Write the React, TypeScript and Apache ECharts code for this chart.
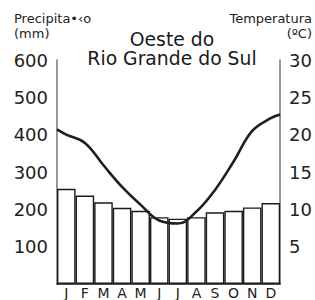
import React, { useEffect, useRef } from "react";
import * as echarts from "echarts";

const months = ["J", "F", "M", "A", "M", "J", "J", "A", "S", "O", "N", "D"];
const precipitation = [255, 237, 219, 204, 196, 179, 175, 179, 192, 196, 205, 217];
const temperature = [20.0, 18.9, 15.9, 13.0, 10.6, 8.5, 8.1, 9.7, 12.6, 16.4, 20.5, 22.2];
const tempAtLeftEdge = 20.7;
const tempAtRightEdge = 22.7;
const precipTicks = [0, 100, 200, 300, 400, 500, 600];
const tempTicks = [0, 5, 10, 15, 20, 25, 30];
const titleLines = ["Oeste do", "Rio Grande do Sul"];

const FONT = "DejaVu Sans";

export default function App() {
  const ref = useRef<HTMLDivElement>(null);
  useEffect(() => {
    if (!ref.current) return;
    const chart = echarts.init(ref.current, undefined, { renderer: "svg" });
    const linePoints: [number, number][] = [
      [0, tempAtLeftEdge],
      ...temperature.map((t, i) => [i + 0.5, t] as [number, number]),
      [months.length, tempAtRightEdge],
    ];
    chart.setOption({
      animation: false,
      backgroundColor: "#ffffff",
      grid: { left: 57, right: 32, top: 60, bottom: 15, containLabel: false },
      xAxis: [
        {
          type: "category",
          data: months,
          boundaryGap: true,
          axisLine: { show: true, lineStyle: { color: "#1a1a1a", width: 1.5 } },
          axisTick: { show: false },
          axisLabel: { color: "#222", fontFamily: FONT, fontSize: 14, margin: 2, interval: 0 },
          splitLine: { show: false },
        },
        {
          type: "value",
          min: 0,
          max: months.length,
          show: false,
        },
      ],
      yAxis: [
        {
          type: "value",
          min: precipTicks[0],
          max: precipTicks[precipTicks.length - 1],
          interval: 100,
          axisLine: { show: true, lineStyle: { color: "#777", width: 1.5 } },
          axisTick: { show: false },
          splitLine: { show: false },
          axisLabel: {
            color: "#222",
            fontFamily: FONT,
            fontSize: 18,
            margin: 9,
            formatter: (v: number) => (v === 0 ? "" : String(v)),
          },
        },
        {
          type: "value",
          position: "right",
          min: tempTicks[0],
          max: tempTicks[tempTicks.length - 1],
          interval: 5,
          axisLine: { show: true, lineStyle: { color: "#777", width: 1.5 } },
          axisTick: { show: false },
          splitLine: { show: false },
          axisLabel: {
            color: "#222",
            fontFamily: FONT,
            fontSize: 18,
            margin: 9,
            formatter: (v: number) => (v === 0 ? "" : String(v)),
          },
        },
      ],
      series: [
        {
          type: "bar",
          xAxisIndex: 0,
          yAxisIndex: 0,
          data: precipitation,
          barCategoryGap: "0%",
          itemStyle: { color: "#ffffff", borderColor: "#1a1a1a", borderWidth: 1.4 },
          z: 2,
        },
        {
          type: "line",
          xAxisIndex: 1,
          yAxisIndex: 1,
          data: linePoints,
          smooth: 0.4,
          showSymbol: false,
          symbol: "none",
          lineStyle: { color: "#1f1f1f", width: 2.6 },
          z: 3,
        },
      ],
      graphic: [
        { type: "text", left: 14, top: 12, style: { text: "Precipita•‹o", fontFamily: FONT, fontSize: 13, fill: "#222" } },
        { type: "text", left: 14, top: 27, style: { text: "(mm)", fontFamily: FONT, fontSize: 13, fill: "#222" } },
        { type: "text", right: 3, top: 12, style: { text: "Temperatura", fontFamily: FONT, fontSize: 13, fill: "#222" } },
        { type: "text", right: 3, top: 27, style: { text: "(ºC)", fontFamily: FONT, fontSize: 13, fill: "#222" } },
        ...titleLines.map((line, i) => ({
          type: "text",
          x: 172,
          y: 39.8 + i * 19,
          style: {
            text: line,
            fontFamily: FONT,
            fontSize: 18.8,
            fill: "#1a1a1a",
            align: "center",
            verticalAlign: "middle",
          },
        })),
      ],
    });
    return () => chart.dispose();
  }, []);
  return (
    <div
      ref={ref}
      style={{ position: "fixed", left: 0, top: 0, width: 315, height: 300, background: "#fff" }}
    />
  );
}
